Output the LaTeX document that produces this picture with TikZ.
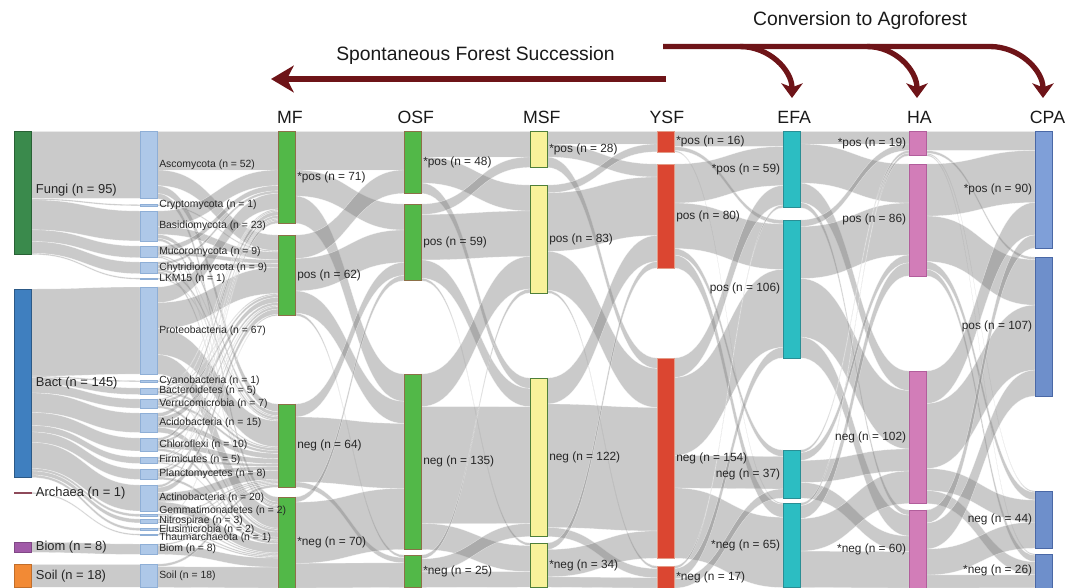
\documentclass[tikz,border=0pt]{standalone}
\usepackage{fontspec}
\setmainfont{Liberation Sans}
\usetikzlibrary{positioning, calc, arrows.meta, backgrounds}

\definecolor{fungicol}{HTML}{3A8A4C}
\definecolor{bactcol}{HTML}{3F7FBF}
\definecolor{archcol}{HTML}{8E4A5A}
\definecolor{biomcol}{HTML}{A15AA8}
\definecolor{soilcol}{HTML}{F28A35}
\definecolor{phylcol}{HTML}{AEC8E8}
\definecolor{phylline}{HTML}{8FAFD6}
\definecolor{forestcol}{HTML}{52B848}
\definecolor{forestline}{HTML}{8C7048}
\definecolor{msfcol}{HTML}{F8F29A}
\definecolor{msfline}{HTML}{4F7F3A}
\definecolor{ysfcol}{HTML}{DB4631}
\definecolor{ysfline}{HTML}{E39A86}
\definecolor{efacol}{HTML}{2CBDC2}
\definecolor{efaline}{HTML}{2A8E94}
\definecolor{hacol}{HTML}{D27DB8}
\definecolor{haline}{HTML}{B25E9C}
\definecolor{cpacol}{HTML}{7F9FD8}
\definecolor{cpadark}{HTML}{6E8FCB}
\definecolor{cpaline}{HTML}{4A68A6}
\definecolor{trendcol}{HTML}{6E1418}

\tikzset{
  bar/.style={draw, line width=0.4pt, minimum width=12.75pt, inner sep=0pt, outer sep=0pt, anchor=north west},
  king/.style={font=\fontsize{9.7}{11}\selectfont, text=black!85, inner sep=0pt},
  tax/.style={font=\fontsize{7.8}{9}\selectfont, text=black!85, inner sep=0pt},
  lab/.style={font=\fontsize{8.9}{10}\selectfont, text=black!85, inner sep=0pt},
  head/.style={font=\fontsize{13.3}{15}\selectfont, text=black!90, inner sep=0pt},
  title/.style={font=\fontsize{14.5}{17}\selectfont, text=black!90, inner sep=0pt},
  flowband/.style={fill=black!50, fill opacity=0.42, draw=white, draw opacity=0.6, line width=0.25pt},
  trend/.style={draw=trendcol, line width=4pt},
  bigtip/.style={-{Stealth[length=17pt, width=20pt, inset=5pt]}},
  smalltip/.style={-{Stealth[length=11pt, width=16pt, inset=3pt]}}
}

\newcommand\unitn{0.975pt}
\newcommand\getoff[1]{\ifcsname #1\endcsname\csname #1\endcsname\else 0\fi}
\newcommand\band[3]{%
  \pgfmathsetmacro\fw{#3*1.3}%
  \edef\oa{\getoff{fo@#1}}\edef\ob{\getoff{fi@#2}}%
  \path (#1.north east) ++(0,\oa) coordinate (fa) ++(0,\fw) coordinate (fb);
  \path (#2.north west) ++(0,\ob) coordinate (ta) ++(0,\fw) coordinate (tb);
  \path ($(fa)!.5!(ta)$) coordinate (fm);
  \path[flowband] (fa) .. controls (fa -| fm) and (ta -| fm) .. (ta) -- (tb) .. controls (tb -| fm) and (fb -| fm) .. (fb) -- cycle;
  \pgfmathsetmacro\oa{\oa+\fw}\expandafter\xdef\csname fo@#1\endcsname{\oa}%
  \pgfmathsetmacro\ob{\ob+\fw}\expandafter\xdef\csname fi@#2\endcsname{\ob}%
}
\newcommand\bandset[6]{%
  \ifnum#3>0 \band{#1}{#21}{#3}\fi
  \ifnum#4>0 \band{#1}{#22}{#4}\fi
  \ifnum#5>0 \band{#1}{#23}{#5}\fi
  \ifnum#6>0 \band{#1}{#24}{#6}\fi}

\begin{document}
\begin{tikzpicture}[x=0.75pt, y=-0.75pt]
\useasboundingbox (0,0) rectangle (1067,587);

\node[bar, fill=fungicol, draw=fungicol!70!black, minimum height=95*\unitn] (fungi) at (14,131) {};
\node[bar, fill=bactcol, draw=bactcol!70!black, minimum height=145*\unitn] (bact) at (14,289) {};
\node[bar, fill=archcol, draw=archcol, minimum height=1*\unitn] (archaea) at (14,492.4) {};
\node[bar, fill=biomcol, draw=biomcol!80!black, minimum height=8*\unitn] (bioma) at (14,542) {};
\node[bar, fill=soilcol, draw=soilcol!80!black, minimum height=18*\unitn] (soila) at (14,564) {};
\node[king, right=3.5pt of fungi, yshift=2pt] (fungi-lab) {Fungi (n = 95)};
\node[king, right=3.5pt of bact] (bact-lab) {Bact (n = 145)};
\node[king, right=3.5pt of archaea] (archaea-lab) {Archaea (n = 1)};
\node[king, right=3.5pt of bioma] (bioma-lab) {Biom (n = 8)};
\node[king, right=3.5pt of soila] (soila-lab) {Soil (n = 18)};

\foreach \nm/\y/\v/\txt in {mf1/131/71/*pos, mf2/235/62/pos, mf3/404/64/neg, mf4/497/70/*neg}{
  \node[bar, fill=forestcol, draw=forestline, minimum height=\v*\unitn] (\nm) at (278,\y) {};
  \node[lab, right=1.5pt of \nm] (\nm-lab) {\txt{} (n = \v)};
}
\foreach \nm/\y/\v/\txt in {osf1/131/48/*pos, osf2/204/59/pos, osf3/374/135/neg, osf4/555/25/*neg}{
  \node[bar, fill=forestcol, draw=forestline, minimum height=\v*\unitn] (\nm) at (404,\y) {};
  \node[lab, right=1.5pt of \nm] (\nm-lab) {\txt{} (n = \v)};
}
\foreach \nm/\y/\v/\txt in {msf1/131/28/*pos, msf2/185/83/pos, msf3/378/122/neg, msf4/543/34/*neg}{
  \node[bar, fill=msfcol, draw=msfline, minimum height=\v*\unitn] (\nm) at (530,\y) {};
  \node[lab, right=1.5pt of \nm] (\nm-lab) {\txt{} (n = \v)};
}
\foreach \nm/\y/\v/\txt in {ysf1/131/16/*pos, ysf2/164/80/pos, ysf3/358/154/neg, ysf4/566/17/*neg}{
  \node[bar, fill=ysfcol, draw=ysfline, minimum height=\v*\unitn] (\nm) at (657,\y) {};
  \node[lab, right=1.5pt of \nm] (\nm-lab) {\txt{} (n = \v)};
}
\foreach \nm/\y/\v/\txt in {efa1/131/59/*pos, efa2/220/106/pos, efa3/450/37/neg, efa4/503/65/*neg}{
  \node[bar, fill=efacol, draw=efaline, minimum height=\v*\unitn] (\nm) at (783,\y) {};
  \node[lab, left=2pt of \nm] (\nm-lab) {\txt{} (n = \v)};
}
\foreach \nm/\y/\v/\txt in {ha1/131/19/*pos, ha2/164/86/pos, ha3/371/102/neg, ha4/510/60/*neg}{
  \node[bar, fill=hacol, draw=haline, minimum height=\v*\unitn] (\nm) at (909,\y) {};
  \node[lab, left=2pt of \nm] (\nm-lab) {\txt{} (n = \v)};
}
\foreach \nm/\y/\v/\txt/\fc in {cpa1/131/90/*pos/cpacol, cpa2/257/107/pos/cpadark, cpa3/491/44/neg/cpadark, cpa4/554/26/*neg/cpadark}{
  \node[bar, fill=\fc, draw=cpaline, minimum height=\v*\unitn] (\nm) at (1035,\y) {};
  \node[lab, left=2pt of \nm] (\nm-lab) {\txt{} (n = \v)};
}

\foreach \nm/\y/\v/\txt/\dy in {asco/131/52/Ascomycota/0, crypto/204.5/1/Cryptomycota/0,
    basidio/211/23/Basidiomycota/0, mucoro/246/9/Mucoromycota/0, chytrid/262/9/Chytridiomycota/0,
    lkm/278/1/LKM15/0, proteo/287/67/Proteobacteria/0, cyano/380.5/1/Cyanobacteria/0,
    bactero/388/5/Bacteroidetes/0, verruco/399/7/Verrucomicrobia/0, acido/413/15/Acidobacteria/0,
    chloro/438/10/Chloroflexi/0, firmi/457/5/Firmicutes/0, plancto/469/8/Planctomycetes/0,
    actino/485/20/Actinobacteria/0, gemma/514/2/Gemmatimonadetes/3.5, nitro/519/3/Nitrospirae/0,
    elusi/528/2/Elusimicrobia/0, thaum/534/1/Thaumarchaeota/-2.5, biomb/544/8/Biom/0, soilb/564/18/Soil/0}{
  \node[bar, fill=phylcol, draw=phylline, minimum height=\v*\unitn] (\nm) at (140,\y) {};
  \node[tax, right=1.5pt of \nm, yshift=\dy pt] (\nm-lab) {\txt{} (n = \v)};
}

\node[head, above=5.5pt of mf1, xshift=2.5pt] (mf-head) {MF};
\node[head, above=5.5pt of osf1, xshift=2.5pt] (osf-head) {OSF};
\node[head, above=5.5pt of msf1, xshift=2.5pt] (msf-head) {MSF};
\node[head, above=5.5pt of ysf1, xshift=1pt] (ysf-head) {YSF};
\node[head, above=5.5pt of efa1, xshift=2pt] (efa-head) {EFA};
\node[head, above=5.5pt of ha1, xshift=1.5pt] (ha-head) {HA};
\node[head, above=5.5pt of cpa1, xshift=3pt] (cpa-head) {CPA};

\begin{scope}[on background layer]
\foreach \src/\dst/\v in {fungi/asco/52, fungi/crypto/1, fungi/basidio/23, fungi/mucoro/9, fungi/chytrid/9, fungi/lkm/1,
    bact/proteo/67, bact/cyano/1, bact/bactero/5, bact/verruco/7, bact/acido/15, bact/chloro/10, bact/firmi/5,
    bact/plancto/8, bact/actino/20, bact/gemma/2, bact/nitro/3, bact/elusi/2,
    archaea/thaum/1, bioma/biomb/8, soila/soilb/18}
  {\band{\src}{\dst}{\v}}
\foreach \src/\na/\nb/\nc/\nd in {asco/30/12/6/4, crypto/0/1/0/0, basidio/12/6/3/2, mucoro/4/3/1/1,
    chytrid/2/3/2/2, lkm/0/0/1/0, proteo/12/20/20/15, cyano/0/0/1/0, bactero/1/1/2/1, verruco/1/2/2/2,
    acido/3/4/4/4, chloro/2/2/4/2, firmi/1/1/2/1, plancto/1/2/3/2, actino/2/4/7/7, gemma/0/0/1/1,
    nitro/0/1/1/1, elusi/0/0/1/1, thaum/0/0/0/1, biomb/0/0/1/7, soilb/0/0/2/16}
  {\bandset{\src}{mf}{\na}{\nb}{\nc}{\nd}}
\foreach \src/\na/\nb/\nc/\nd in {mf1/30/20/21/0, mf2/18/25/17/2, mf3/0/10/50/4, mf4/0/4/47/19}
  {\bandset{\src}{osf}{\na}{\nb}{\nc}{\nd}}
\foreach \src/\na/\nb/\nc/\nd in {osf1/20/20/8/0, osf2/8/35/14/2, osf3/0/25/90/20, osf4/0/3/10/12}
  {\bandset{\src}{msf}{\na}{\nb}{\nc}{\nd}}
\foreach \src/\na/\nb/\nc/\nd in {msf1/10/10/8/0, msf2/6/45/30/2, msf3/0/20/95/7, msf4/0/5/21/8}
  {\bandset{\src}{ysf}{\na}{\nb}{\nc}{\nd}}
\foreach \src/\na/\nb/\nc/\nd in {ysf1/12/3/0/1, ysf2/30/35/5/10, ysf3/15/60/25/54, ysf4/2/8/7/0}
  {\bandset{\src}{efa}{\na}{\nb}{\nc}{\nd}}
\foreach \src/\na/\nb/\nc/\nd in {efa1/10/30/15/4, efa2/5/40/45/16, efa3/2/6/17/12, efa4/2/10/25/28}
  {\bandset{\src}{ha}{\na}{\nb}{\nc}{\nd}}
\foreach \src/\na/\nb/\nc/\nd in {ha1/15/2/1/1, ha2/40/35/6/5, ha3/25/50/17/10, ha4/10/20/20/10}
  {\bandset{\src}{cpa}{\na}{\nb}{\nc}{\nd}}
\end{scope}

\node[title] (sfs) at (475.5,55) {Spontaneous Forest Succession};
\node[title] (cta) at (860,20) {Conversion to Agroforest};

\coordinate (sfs-start) at (666,79);
\coordinate (sfs-end) at (271,79);
\draw[trend, bigtip] (sfs-start) -- (sfs-end);

\coordinate (conv-start) at (663,46.5);
\coordinate (conv-b1) at (740,46.5);
\coordinate (conv-b2) at (867,46.5);
\coordinate (conv-b3) at (990,46.5);
\coordinate (efa-tip) at (792,98);
\coordinate (ha-tip) at (917,98);
\coordinate (cpa-tip) at (1043,98);
\draw[trend, smalltip] (conv-start) -- (conv-b3) .. controls (1019,46.5) and (1043,70) .. (cpa-tip);
\draw[trend, smalltip] (conv-b1) .. controls (769,46.5) and (792,70) .. (efa-tip);
\draw[trend, smalltip] (conv-b2) .. controls (895,46.5) and (917,70) .. (ha-tip);
\end{tikzpicture}
\end{document}
